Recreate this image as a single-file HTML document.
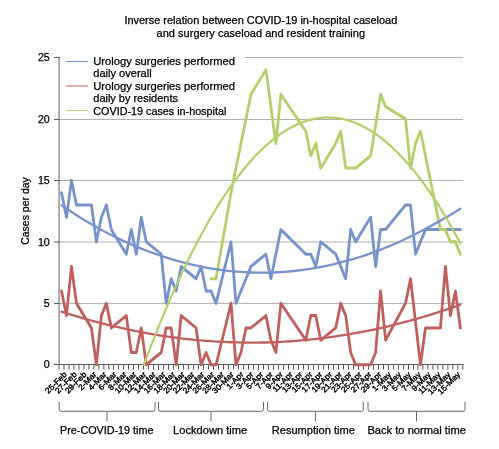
<!DOCTYPE html>
<html lang="en"><head><meta charset="utf-8"><title>Inverse relation between COVID-19 in-hospital caseload and surgery caseload and resident training</title>
<style>
html,body{margin:0;padding:0;background:#fff;}
body{width:499px;height:449px;overflow:hidden;font-family:"Liberation Sans",sans-serif;}
svg{display:block;}
svg text{stroke:#000;stroke-width:.25px;}
svg text.xl{stroke-width:.4px;}
</style></head><body>
<svg width="499" height="449" viewBox="0 0 499 449" font-family="'Liberation Sans', sans-serif" fill="#000">
<rect width="499" height="449" fill="#fff"/>
<line x1="59.0" x2="463.2" y1="303.4" y2="303.4" stroke="#adadad" stroke-width="1"/>
<line x1="59.0" x2="463.2" y1="242.0" y2="242.0" stroke="#adadad" stroke-width="1"/>
<line x1="59.0" x2="463.2" y1="180.5" y2="180.5" stroke="#adadad" stroke-width="1"/>
<line x1="59.0" x2="463.2" y1="119.44" y2="119.44" stroke="#adadad" stroke-width="1"/>
<line x1="59.0" x2="463.2" y1="57.46" y2="57.46" stroke="#adadad" stroke-width="1"/>
<rect x="60.5" y="52" width="184" height="65.5" fill="#fff"/>
<line x1="54" x2="59.5" y1="364.45" y2="364.45" stroke="#555" stroke-width="1"/>
<line x1="54" x2="59.5" y1="303.4" y2="303.4" stroke="#555" stroke-width="1"/>
<line x1="54" x2="59.5" y1="242.0" y2="242.0" stroke="#555" stroke-width="1"/>
<line x1="54" x2="59.5" y1="180.5" y2="180.5" stroke="#555" stroke-width="1"/>
<line x1="54" x2="59.5" y1="119.44" y2="119.44" stroke="#555" stroke-width="1"/>
<line x1="54" x2="59.5" y1="57.46" y2="57.46" stroke="#555" stroke-width="1"/>
<line x1="54" x2="463.4" y1="364.45" y2="364.45" stroke="#555" stroke-width="1"/>
<path d="M63.95 364.45V369.6 M68.95 364.45V369.6 M73.95 364.45V369.6 M78.95 364.45V369.6 M83.95 364.45V369.6 M88.95 364.45V369.6 M93.88 364.45V369.6 M98.88 364.45V369.6 M103.88 364.45V369.6 M108.88 364.45V369.6 M113.5 364.45V369.6 M118.5 364.45V369.6 M123.5 364.45V369.6 M128.5 364.45V369.6 M133.5 364.45V369.6 M138.5 364.45V369.6 M143.5 364.45V369.6 M148.5 364.45V369.6 M153.5 364.45V369.6 M158.5 364.45V369.6 M163.5 364.45V369.6 M168.5 364.45V369.6 M173.5 364.45V369.6 M178.5 364.45V369.6 M183.5 364.45V369.6 M188.5 364.45V369.6 M193.5 364.45V369.6 M198.5 364.45V369.6 M203.5 364.45V369.6 M208.5 364.45V369.6 M213.5 364.45V369.6 M218.5 364.45V369.6 M223.5 364.45V369.6 M228.5 364.45V369.6 M233.5 364.45V369.6 M238.5 364.45V369.6 M243.5 364.45V369.6 M248.5 364.45V369.6 M253.5 364.45V369.6 M258.5 364.45V369.6 M263.5 364.45V369.6 M268.5 364.45V369.6 M273.5 364.45V369.6 M278.5 364.45V369.6 M283.5 364.45V369.6 M288.5 364.45V369.6 M293.5 364.45V369.6 M298.5 364.45V369.6 M303.5 364.45V369.6 M308.5 364.45V369.6 M313.5 364.45V369.6 M318.5 364.45V369.6 M323.5 364.45V369.6 M328.5 364.45V369.6 M333.5 364.45V369.6 M338.5 364.45V369.6 M343.5 364.45V369.6 M348.5 364.45V369.6 M353.5 364.45V369.6 M358.5 364.45V369.6 M363.5 364.45V369.6 M368.5 364.45V369.6 M373.5 364.45V369.6 M378.5 364.45V369.6 M383.5 364.45V369.6 M388.5 364.45V369.6 M393.5 364.45V369.6 M398.5 364.45V369.6 M403.5 364.45V369.6 M408.5 364.45V369.6 M413.5 364.45V369.6 M417.85 364.45V369.6 M422.85 364.45V369.6 M427.85 364.45V369.6 M432.85 364.45V369.6 M437.85 364.45V369.6 M442.85 364.45V369.6 M447.85 364.45V369.6 M452.85 364.45V369.6 M457.85 364.45V369.6 M462.85 364.45V369.6" stroke="#555" stroke-width="1" fill="none"/>
<line x1="59.05" x2="59.05" y1="57" y2="369.5" stroke="#666" stroke-width="1.05"/>
<g fill="none" stroke-linejoin="round" stroke-linecap="round" transform="scale(0.92 1)">
<polyline points="66.84,192.67 72.26,217.26 77.68,180.38 83.10,204.97 99.36,204.97 104.78,241.85 110.20,217.26 115.62,204.97 121.04,229.56 137.29,254.15 142.71,229.56 148.13,254.15 153.55,217.26 158.97,241.85 175.23,254.15 180.65,303.32 186.07,278.74 191.49,291.03 196.91,266.44 213.17,278.74 218.59,266.44 224.01,291.03 229.43,291.03 234.85,303.32 251.11,241.85 256.52,303.32 272.78,266.44 289.04,254.15 294.46,278.74 305.30,229.56 332.40,254.15 337.82,254.15 343.24,266.44 348.66,241.85 364.92,254.15 370.34,266.44 375.76,278.74 381.17,229.56 386.59,241.85 402.85,217.26 408.27,266.44 413.69,229.56 419.11,229.56 440.79,204.97 446.21,204.97 451.63,254.15 462.47,229.56 500.41,229.56" stroke="#7693cc" stroke-width="3"/>
<polyline points="66.84,291.03 72.26,315.62 77.68,266.44 83.10,303.32 99.36,327.92 104.78,364.80 110.20,315.62 115.62,303.32 121.04,327.92 137.29,315.62 142.71,352.50 148.13,352.50 153.55,327.92 158.97,364.80 175.23,352.50 180.65,327.92 186.07,327.92 191.49,364.80 196.91,315.62 213.17,327.92 218.59,364.80 224.01,352.50 229.43,364.80 234.85,364.80 251.11,303.32 256.52,364.80 261.94,352.50 267.36,327.92 272.78,327.92 289.04,315.62 294.46,340.21 299.88,352.50 305.30,303.32 332.40,340.21 337.82,315.62 343.24,315.62 348.66,340.21 364.92,327.92 370.34,303.32 375.76,315.62 381.17,352.50 386.59,364.80 402.85,364.80 408.27,352.50 413.69,291.03 419.11,340.21 440.79,303.32 446.21,278.74 451.63,321.77 457.05,364.80 462.47,327.92 478.73,327.92 484.15,266.44 489.57,315.62 494.99,291.03 500.41,327.92" stroke="#bf605c" stroke-width="3"/>
<polyline points="229.43,278.74 234.85,278.74 251.11,192.67 256.52,168.08 261.94,143.49 267.36,118.90 272.78,94.31 289.04,69.72 294.46,106.61 299.88,143.49 305.30,94.31 332.40,131.20 337.82,155.79 343.24,143.49 348.66,168.08 364.92,143.49 370.34,131.20 375.76,168.08 381.17,168.08 386.59,168.08 402.85,155.79 413.69,94.31 419.11,106.61 440.79,118.90 446.21,168.08 451.63,143.49 457.05,131.20 478.73,229.56 484.15,229.56 489.57,241.85 494.99,241.85 500.41,254.15" stroke="#b4ce6c" stroke-width="3"/>
<polyline points="66.84,205.32 74.19,209.84 81.54,214.20 88.89,218.42 96.23,222.48 103.58,226.39 110.93,230.15 118.28,233.75 125.63,237.21 132.98,240.42 140.33,243.48 147.67,246.38 155.02,249.13 162.37,251.73 169.72,254.17 177.07,256.47 184.42,258.61 191.77,260.60 199.11,262.44 206.46,264.13 213.81,265.67 221.16,267.05 228.51,268.28 235.86,269.36 243.21,270.29 250.55,271.07 257.90,271.69 265.25,272.17 272.60,272.49 279.95,272.66 287.30,272.68 294.65,272.54 301.99,272.26 309.34,271.82 316.69,271.23 324.04,270.49 331.39,269.60 338.74,268.57 346.09,267.39 353.43,266.05 360.78,264.57 368.13,262.97 375.48,261.22 382.83,259.32 390.18,257.26 397.53,255.06 404.87,252.70 412.22,250.19 419.57,247.53 426.92,244.71 434.27,241.72 441.62,238.56 448.97,235.25 456.31,231.79 463.66,228.22 471.01,224.63 478.36,220.89 485.71,216.98 493.06,212.92 500.41,208.71" stroke="#7693cc" stroke-width="2.3"/>
<polyline points="66.84,311.63 74.19,313.79 81.54,315.87 88.89,317.87 96.23,319.79 103.58,321.64 110.93,323.40 118.28,325.09 125.63,326.70 132.98,328.24 140.33,329.70 147.67,331.09 155.02,332.40 162.37,333.63 169.72,334.78 177.07,335.85 184.42,336.85 191.77,337.76 199.11,338.60 206.46,339.36 213.81,340.03 221.16,340.63 228.51,341.15 235.86,341.60 243.21,341.96 250.55,342.25 257.90,342.45 265.25,342.58 272.60,342.63 279.95,342.60 287.30,342.49 294.65,342.30 301.99,342.03 309.34,341.68 316.69,341.24 324.04,340.72 331.39,340.12 338.74,339.44 346.09,338.69 353.43,337.86 360.78,336.94 368.13,335.95 375.48,334.88 382.83,333.73 390.18,332.50 397.53,331.20 404.87,329.81 412.22,328.35 419.57,326.81 426.92,325.18 434.27,323.48 441.62,321.70 448.97,319.85 456.31,317.91 463.66,315.89 471.01,313.80 478.36,311.63 485.71,309.38 493.06,307.05 500.41,304.64" stroke="#bf605c" stroke-width="2.3"/>
<polyline points="156.34,364.80 162.17,350.61 168.00,336.83 173.83,323.47 179.67,310.54 185.50,298.02 191.33,285.92 197.16,274.24 202.99,262.99 208.82,252.15 214.65,241.73 220.49,231.72 226.32,222.14 232.15,212.98 237.98,204.24 243.81,195.92 249.64,188.01 255.48,180.53 261.31,173.46 267.14,166.82 272.97,160.59 278.80,154.79 284.63,149.40 290.47,144.43 296.30,139.88 302.13,135.75 307.96,132.05 313.79,128.76 319.62,125.88 325.46,123.43 331.29,121.40 337.12,119.79 342.95,118.60 348.78,117.82 354.61,117.47 360.45,117.53 366.28,118.02 372.11,118.92 377.94,120.25 383.77,121.99 389.60,124.15 395.44,126.73 401.27,129.74 407.10,133.16 412.93,137.00 418.76,141.26 424.59,145.93 430.43,151.03 436.26,156.52 442.09,162.32 447.92,168.54 453.75,175.18 459.58,182.25 465.42,189.73 471.25,197.63 477.08,205.95 482.91,214.69 488.74,223.85 494.57,233.44 500.41,243.44" stroke="#b4ce6c" stroke-width="2.3"/>
</g>
<line x1="66.1" x2="88" y1="61.5" y2="61.5" stroke="#7693cc" stroke-width="1"/>
<line x1="66.1" x2="88" y1="86.0" y2="86.0" stroke="#bf605c" stroke-width="1"/>
<line x1="66.1" x2="88" y1="110.6" y2="110.6" stroke="#b4ce6c" stroke-width="1"/>
<text x="93.3" y="65.0" font-size="10.4" text-anchor="start" textLength="141.7" lengthAdjust="spacingAndGlyphs" class="leg">Urology surgeries performed</text>
<text x="93.3" y="77.4" font-size="10.4" text-anchor="start" textLength="58.4" lengthAdjust="spacingAndGlyphs" class="leg">daily overall</text>
<text x="93.3" y="89.8" font-size="10.4" text-anchor="start" textLength="141.7" lengthAdjust="spacingAndGlyphs" class="leg">Urology surgeries performed</text>
<text x="93.3" y="102.2" font-size="10.4" text-anchor="start" textLength="84.6" lengthAdjust="spacingAndGlyphs" class="leg">daily by residents</text>
<text x="93.3" y="114.6" font-size="10.4" text-anchor="start" textLength="133" lengthAdjust="spacingAndGlyphs" class="leg">COVID-19 cases in-hospital</text>
<text x="124.4" y="23.7" font-size="10.4" text-anchor="start" textLength="272.9" lengthAdjust="spacingAndGlyphs" class="ttl">Inverse relation between COVID-19 in-hospital caseload</text>
<text x="156.6" y="37.2" font-size="10.4" text-anchor="start" textLength="208.5" lengthAdjust="spacingAndGlyphs" class="ttl">and surgery caseload and resident training</text>
<text x="43.800000000000004" y="368.2" font-size="10.4" text-anchor="start" textLength="5.9" lengthAdjust="spacingAndGlyphs" class="yl">0</text>
<text x="43.800000000000004" y="307.15" font-size="10.4" text-anchor="start" textLength="5.9" lengthAdjust="spacingAndGlyphs" class="yl">5</text>
<text x="37.900000000000006" y="245.75" font-size="10.4" text-anchor="start" textLength="11.8" lengthAdjust="spacingAndGlyphs" class="yl">10</text>
<text x="37.900000000000006" y="184.25" font-size="10.4" text-anchor="start" textLength="11.8" lengthAdjust="spacingAndGlyphs" class="yl">15</text>
<text x="37.900000000000006" y="123.19" font-size="10.4" text-anchor="start" textLength="11.8" lengthAdjust="spacingAndGlyphs" class="yl">20</text>
<text x="37.900000000000006" y="61.21" font-size="10.4" text-anchor="start" textLength="11.8" lengthAdjust="spacingAndGlyphs" class="yl">25</text>
<text transform="translate(28.8 244.8) rotate(-90)" font-size="10.4" textLength="67.6" lengthAdjust="spacingAndGlyphs" class="yt">Cases per day</text>
<text transform="translate(67.34 375) rotate(-45) scale(1.06 1)" font-size="8" text-anchor="end" class="xl">25-Feb</text>
<text transform="translate(77.21 375) rotate(-45) scale(1.06 1)" font-size="8" text-anchor="end" class="xl">27-Feb</text>
<text transform="translate(87.12 375) rotate(-45) scale(1.06 1)" font-size="8" text-anchor="end" class="xl">29-Feb</text>
<text transform="translate(97.07 375) rotate(-45) scale(1.06 1)" font-size="8" text-anchor="end" class="xl">2-Mar</text>
<text transform="translate(107.05 375) rotate(-45) scale(1.06 1)" font-size="8" text-anchor="end" class="xl">4-Mar</text>
<text transform="translate(117.04 375) rotate(-45) scale(1.06 1)" font-size="8" text-anchor="end" class="xl">6-Mar</text>
<text transform="translate(127.00 375) rotate(-45) scale(1.06 1)" font-size="8" text-anchor="end" class="xl">8-Mar</text>
<text transform="translate(136.87 375) rotate(-45) scale(1.06 1)" font-size="8" text-anchor="end" class="xl">10-Mar</text>
<text transform="translate(146.64 375) rotate(-45) scale(1.06 1)" font-size="8" text-anchor="end" class="xl">12-Mar</text>
<text transform="translate(156.34 375) rotate(-45) scale(1.06 1)" font-size="8" text-anchor="end" class="xl">14-Mar</text>
<text transform="translate(166.00 375) rotate(-45) scale(1.06 1)" font-size="8" text-anchor="end" class="xl">16-Mar</text>
<text transform="translate(175.66 375) rotate(-45) scale(1.06 1)" font-size="8" text-anchor="end" class="xl">18-Mar</text>
<text transform="translate(185.36 375) rotate(-45) scale(1.06 1)" font-size="8" text-anchor="end" class="xl">20-Mar</text>
<text transform="translate(195.10 375) rotate(-45) scale(1.06 1)" font-size="8" text-anchor="end" class="xl">22-Mar</text>
<text transform="translate(204.87 375) rotate(-45) scale(1.06 1)" font-size="8" text-anchor="end" class="xl">24-Mar</text>
<text transform="translate(214.68 375) rotate(-45) scale(1.06 1)" font-size="8" text-anchor="end" class="xl">26-Mar</text>
<text transform="translate(224.49 375) rotate(-45) scale(1.06 1)" font-size="8" text-anchor="end" class="xl">28-Mar</text>
<text transform="translate(234.31 375) rotate(-45) scale(1.06 1)" font-size="8" text-anchor="end" class="xl">30-Mar</text>
<text transform="translate(244.14 375) rotate(-45) scale(1.06 1)" font-size="8" text-anchor="end" class="xl">1-Apr</text>
<text transform="translate(253.96 375) rotate(-45) scale(1.06 1)" font-size="8" text-anchor="end" class="xl">3-Apr</text>
<text transform="translate(263.79 375) rotate(-45) scale(1.06 1)" font-size="8" text-anchor="end" class="xl">5-Apr</text>
<text transform="translate(273.62 375) rotate(-45) scale(1.06 1)" font-size="8" text-anchor="end" class="xl">7-Apr</text>
<text transform="translate(283.45 375) rotate(-45) scale(1.06 1)" font-size="8" text-anchor="end" class="xl">9-Apr</text>
<text transform="translate(293.28 375) rotate(-45) scale(1.06 1)" font-size="8" text-anchor="end" class="xl">11-Apr</text>
<text transform="translate(303.11 375) rotate(-45) scale(1.06 1)" font-size="8" text-anchor="end" class="xl">13-Apr</text>
<text transform="translate(312.95 375) rotate(-45) scale(1.06 1)" font-size="8" text-anchor="end" class="xl">15-Apr</text>
<text transform="translate(322.80 375) rotate(-45) scale(1.06 1)" font-size="8" text-anchor="end" class="xl">17-Apr</text>
<text transform="translate(332.64 375) rotate(-45) scale(1.06 1)" font-size="8" text-anchor="end" class="xl">19-Apr</text>
<text transform="translate(342.50 375) rotate(-45) scale(1.06 1)" font-size="8" text-anchor="end" class="xl">21-Apr</text>
<text transform="translate(352.36 375) rotate(-45) scale(1.06 1)" font-size="8" text-anchor="end" class="xl">23-Apr</text>
<text transform="translate(362.22 375) rotate(-45) scale(1.06 1)" font-size="8" text-anchor="end" class="xl">25-Apr</text>
<text transform="translate(372.09 375) rotate(-45) scale(1.06 1)" font-size="8" text-anchor="end" class="xl">27-Apr</text>
<text transform="translate(381.97 375) rotate(-45) scale(1.06 1)" font-size="8" text-anchor="end" class="xl">29-Apr</text>
<text transform="translate(391.84 375) rotate(-45) scale(1.06 1)" font-size="8" text-anchor="end" class="xl">1-May</text>
<text transform="translate(401.71 375) rotate(-45) scale(1.06 1)" font-size="8" text-anchor="end" class="xl">3-May</text>
<text transform="translate(411.58 375) rotate(-45) scale(1.06 1)" font-size="8" text-anchor="end" class="xl">5-May</text>
<text transform="translate(421.44 375) rotate(-45) scale(1.06 1)" font-size="8" text-anchor="end" class="xl">7-May</text>
<text transform="translate(431.29 375) rotate(-45) scale(1.06 1)" font-size="8" text-anchor="end" class="xl">9-May</text>
<text transform="translate(441.14 375) rotate(-45) scale(1.06 1)" font-size="8" text-anchor="end" class="xl">11-May</text>
<text transform="translate(450.98 375) rotate(-45) scale(1.06 1)" font-size="8" text-anchor="end" class="xl">13-May</text>
<text transform="translate(460.82 375) rotate(-45) scale(1.06 1)" font-size="8" text-anchor="end" class="xl">15-May</text>
<path d="M59.2 402v7.3q0 2 2 2H153q2 0 2 -2v-7.3M107 411.3v10.2" fill="none" stroke="#666" stroke-width="1"/>
<path d="M158.5 402v7.3q0 2 2 2H261.5q2 0 2 -2v-7.3M211 411.3v10.2" fill="none" stroke="#666" stroke-width="1"/>
<path d="M267.6 402v7.3q0 2 2 2H361.3q2 0 2 -2v-7.3M315.4 411.3v10.2" fill="none" stroke="#666" stroke-width="1"/>
<path d="M368 402v7.3q0 2 2 2H463q2 0 2 -2v-7.3M416.5 411.3v10.2" fill="none" stroke="#666" stroke-width="1"/>
<text x="60" y="433.5" font-size="10.4" text-anchor="start" textLength="93.5" lengthAdjust="spacingAndGlyphs" class="bl">Pre-COVID-19 time</text>
<text x="173.1" y="433.5" font-size="10.4" text-anchor="start" textLength="74.1" lengthAdjust="spacingAndGlyphs" class="bl">Lockdown time</text>
<text x="271.8" y="433.5" font-size="10.4" text-anchor="start" textLength="83.0" lengthAdjust="spacingAndGlyphs" class="bl">Resumption time</text>
<text x="367.4" y="433.5" font-size="10.4" text-anchor="start" textLength="98.5" lengthAdjust="spacingAndGlyphs" class="bl">Back to normal time</text>
</svg>
</body></html>
